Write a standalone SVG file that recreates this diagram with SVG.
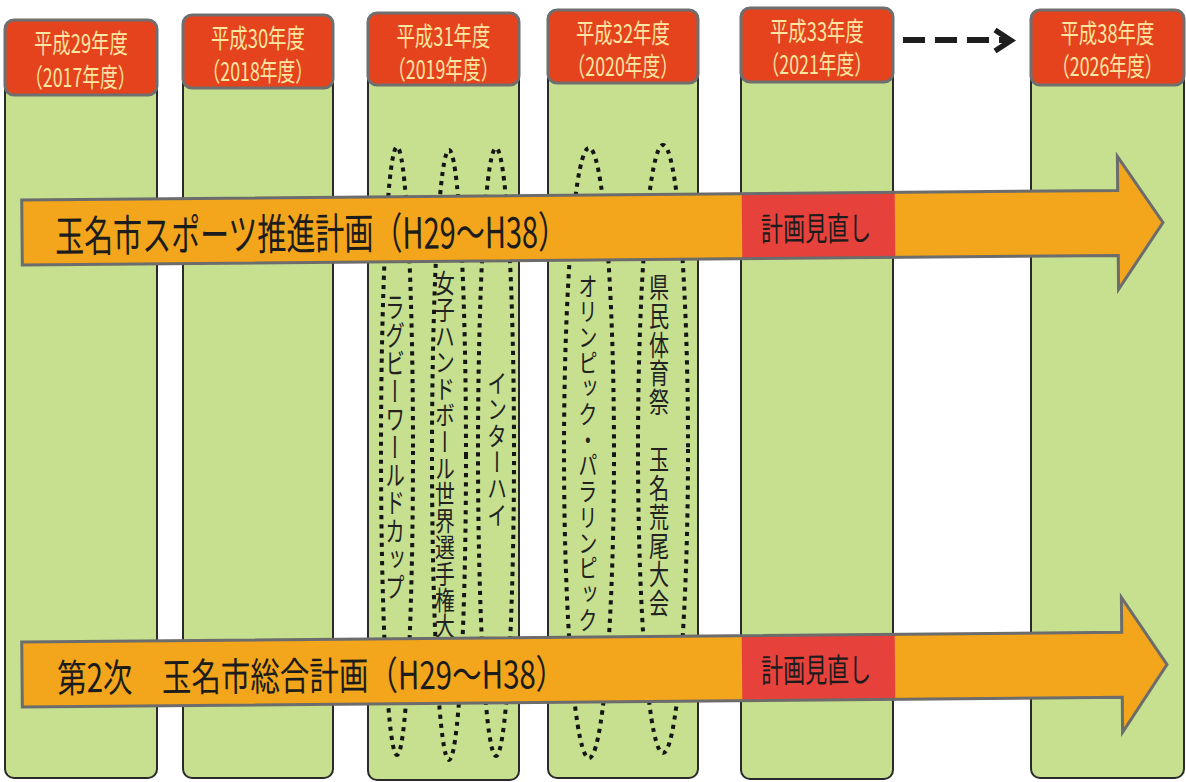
<svg xmlns="http://www.w3.org/2000/svg" width="1186" height="782" viewBox="0 0 1186 782">
<style>
  .col{fill:#c6e08f;stroke:#2a2a2a;stroke-width:2}
  .hdr{fill:#e4431d;stroke:#6f6f6f;stroke-width:3}
  .ht{font-family:"Noto Sans CJK JP","Noto Sans",sans-serif;font-size:26px;fill:#fbe6a2;dominant-baseline:central}
  .lbl{font-family:"Noto Sans CJK JP","Noto Sans",sans-serif;fill:#1c1c1c;dominant-baseline:central}
  .vt{font-family:"Noto Sans CJK JP","Noto Sans",sans-serif;fill:#222;writing-mode:vertical-rl}
  .dot{fill:none;stroke:#151515;stroke-width:4;stroke-dasharray:4.2 5}
  .afill{fill:#f3a51b;stroke:none}
  .aline{fill:none;stroke:#6c6c6c;stroke-width:3;stroke-linejoin:miter}
  .rev{fill:#e7413c}
</style>
<defs>
  <path id="arr1" d="M22,195 H1118 V161 L1163,227.5 L1118,294 V260 H22 Z"/>
  <path id="arr2" d="M22,637 H1122 V602 L1167,669.5 L1122,737 V702 H22 Z"/>
</defs>
<rect width="1186" height="782" fill="#ffffff"/>

<g id="col-h29">
  <rect class="col" x="5" y="20" width="152" height="758" rx="9"/>
  <rect class="hdr" x="5" y="20" width="152" height="75" rx="9"/>
  <text class="ht" transform="translate(34 41.5) scale(0.7 1)" textLength="134" lengthAdjust="spacingAndGlyphs">平成29年度</text>
  <text class="ht" transform="translate(25 75) scale(0.7 1)" textLength="158" lengthAdjust="spacingAndGlyphs">（2017年度）</text>
</g>
<g id="col-h30">
  <rect class="col" x="183" y="15" width="150" height="763" rx="9"/>
  <rect class="hdr" x="183" y="15" width="150" height="73" rx="9"/>
  <text class="ht" transform="translate(211 36.5) scale(0.7 1)" textLength="134" lengthAdjust="spacingAndGlyphs">平成30年度</text>
  <text class="ht" transform="translate(202.5 69.5) scale(0.7 1)" textLength="158" lengthAdjust="spacingAndGlyphs">（2018年度）</text>
</g>
<g id="col-h31">
  <rect class="col" x="368" y="13" width="151" height="767" rx="9"/>
  <rect class="hdr" x="368" y="13" width="151" height="72" rx="9"/>
  <text class="ht" transform="translate(396.5 34.5) scale(0.7 1)" textLength="134" lengthAdjust="spacingAndGlyphs">平成31年度</text>
  <text class="ht" transform="translate(388 67.5) scale(0.7 1)" textLength="158" lengthAdjust="spacingAndGlyphs">（2019年度）</text>
</g>
<g id="col-h32">
  <rect class="col" x="548" y="10" width="150" height="768" rx="9"/>
  <rect class="hdr" x="548" y="10" width="150" height="73" rx="9"/>
  <text class="ht" transform="translate(576 31.5) scale(0.7 1)" textLength="134" lengthAdjust="spacingAndGlyphs">平成32年度</text>
  <text class="ht" transform="translate(567.5 64.5) scale(0.7 1)" textLength="158" lengthAdjust="spacingAndGlyphs">（2020年度）</text>
</g>
<g id="col-h33">
  <rect class="col" x="741" y="8" width="152" height="771" rx="9"/>
  <rect class="hdr" x="741" y="8" width="152" height="74" rx="9"/>
  <text class="ht" transform="translate(770 29.5) scale(0.7 1)" textLength="134" lengthAdjust="spacingAndGlyphs">平成33年度</text>
  <text class="ht" transform="translate(761.5 62.5) scale(0.7 1)" textLength="158" lengthAdjust="spacingAndGlyphs">（2021年度）</text>
</g>
<g id="col-h38">
  <rect class="col" x="1031" y="10" width="153" height="768" rx="9"/>
  <rect class="hdr" x="1031" y="10" width="153" height="75" rx="9"/>
  <text class="ht" transform="translate(1060.5 31.5) scale(0.7 1)" textLength="134" lengthAdjust="spacingAndGlyphs">平成38年度</text>
  <text class="ht" transform="translate(1052 64.5) scale(0.7 1)" textLength="158" lengthAdjust="spacingAndGlyphs">（2026年度）</text>
</g>

<g id="events">
  <g id="ev-rugby">
    <ellipse class="dot" cx="397" cy="451" rx="16" ry="304"/>
    <g transform="translate(395 0) scale(0.7 1)"><text class="vt" x="0" y="293" font-size="28">ラグビーワールドカップ</text></g>
  </g>
  <g id="ev-handball">
    <ellipse class="dot" cx="449" cy="455" rx="17" ry="305"/>
    <g transform="translate(445 0) scale(0.75 1)"><text class="vt" x="0" y="270" font-size="26.4">女子ハンドボール世界選手権大会</text></g>
  </g>
  <g id="ev-interhigh">
    <ellipse class="dot" cx="496" cy="452" rx="18" ry="304"/>
    <g transform="translate(497 0) scale(0.75 1)"><text class="vt" x="0" y="370" font-size="26.3">インターハイ</text></g>
  </g>
  <g id="ev-olympic">
    <ellipse class="dot" cx="589" cy="453" rx="25" ry="305"/>
    <g transform="translate(588 0) scale(0.75 1)"><text class="vt" x="0" y="273" font-size="25.7">オリンピック・パラリンピック</text></g>
  </g>
  <g id="ev-kenmin">
    <ellipse class="dot" cx="663" cy="449" rx="25" ry="304"/>
    <g transform="translate(659 0) scale(0.7 1)"><text class="vt" x="0" y="273" font-size="28.7">県民体育祭　玉名荒尾大会</text></g>
  </g>
</g>

<g id="plan-sports" transform="rotate(-0.5 590 228)">
  <use href="#arr1" class="afill"/>
  <rect class="rev" x="742" y="195" width="153" height="65"/>
  <use href="#arr1" class="aline"/>
  <text class="lbl" transform="translate(55 228.5) scale(0.68 1)" font-size="43" textLength="753" lengthAdjust="spacingAndGlyphs">玉名市スポーツ推進計画（H29～H38）</text>
  <text class="lbl" transform="translate(761 228) scale(0.667 1)" font-size="33" textLength="165" lengthAdjust="spacingAndGlyphs">計画見直し</text>
</g>

<g id="plan-general" transform="rotate(-0.5 590 669)">
  <use href="#arr2" class="afill"/>
  <rect class="rev" x="742" y="637" width="153" height="65"/>
  <use href="#arr2" class="aline"/>
  <text class="lbl" transform="translate(57 671) scale(0.77 1)" font-size="39" textLength="660" lengthAdjust="spacingAndGlyphs">第2次　玉名市総合計画（H29～H38）</text>
  <text class="lbl" transform="translate(761 669.5) scale(0.667 1)" font-size="33" textLength="165" lengthAdjust="spacingAndGlyphs">計画見直し</text>
</g>

<g id="connectors">
  <line x1="903" y1="40" x2="1006" y2="40" stroke="#1e1e1e" stroke-width="6" stroke-dasharray="22 10"/>
  <polyline points="995,30 1011,40.5 995,51" fill="none" stroke="#1e1e1e" stroke-width="5.5" stroke-linejoin="miter"/>
</g>
</svg>
